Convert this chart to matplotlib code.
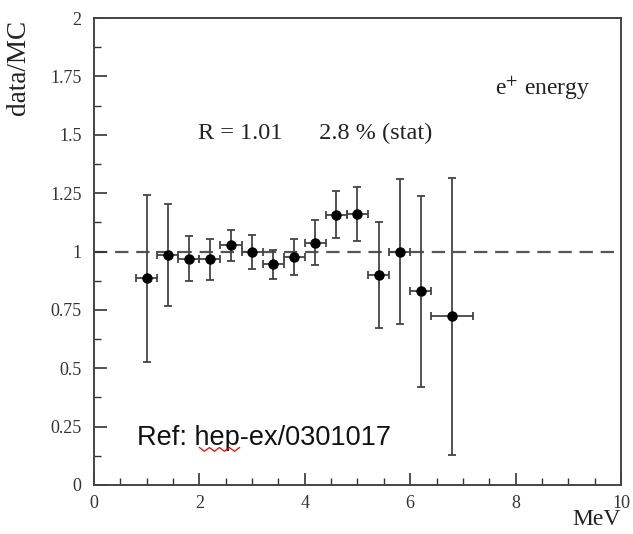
import matplotlib.pyplot as plt
from matplotlib.ticker import MultipleLocator, FixedFormatter, FixedLocator

# positron energy bins (MeV) and data/MC ratio
energy = [1.0, 1.4, 1.8, 2.2, 2.6, 3.0, 3.4, 3.8, 4.2, 4.6, 5.0, 5.4, 5.8, 6.2, 6.8]
energy_err = [0.2, 0.2, 0.2, 0.2, 0.2, 0.2, 0.2, 0.2, 0.2, 0.2, 0.2, 0.2, 0.2, 0.2, 0.4]
ratio = [0.885, 0.985, 0.97, 0.967, 1.027, 0.998, 0.946, 0.977, 1.038, 1.158, 1.16,
         0.9, 1.0, 0.83, 0.722]
ratio_err = [0.357, 0.22, 0.098, 0.088, 0.066, 0.072, 0.062, 0.077, 0.096, 0.102, 0.116,
             0.228, 0.31, 0.41, 0.595]

y_ticks = [0, 0.25, 0.5, 0.75, 1, 1.25, 1.5, 1.75, 2]
y_labels = ['0', '0.25', '0.5', '0.75', '1', '1.25', '1.5', '1.75', '2']

plt.rcParams['font.family'] = ['Liberation Serif', 'DejaVu Serif']
plt.rcParams['mathtext.fontset'] = 'stix'

fig = plt.figure(figsize=(6.33, 5.34), dpi=100)
ax = fig.add_axes([0.1485, 0.092, 0.8325, 0.874])

ax.axhline(1.0, color='#555555', lw=1.6, ls=(0, (6, 3.5)), zorder=1)
ax.errorbar(energy, ratio, xerr=energy_err, yerr=ratio_err, fmt='o', color='black',
            ms=6.5, ecolor='#444444', elinewidth=1.3, capsize=3, capthick=1.3, zorder=3)

ax.set_xlim(0, 10)
ax.set_ylim(0, 2)
ax.xaxis.set_major_locator(MultipleLocator(2))
ax.xaxis.set_minor_locator(MultipleLocator(0.5))
ax.yaxis.set_major_locator(FixedLocator(y_ticks))
ax.yaxis.set_major_formatter(FixedFormatter(y_labels))
ax.yaxis.set_minor_locator(MultipleLocator(0.125))
ax.tick_params(which='both', direction='in', top=False, right=False, labelsize=13,
               colors='#333333')
ax.tick_params(axis='y', which='major', pad=9)
ax.tick_params(axis='x', which='major', pad=7)
ax.tick_params(which='major', length=9, width=1.2)
ax.tick_params(which='minor', length=5, width=1.0)
for sp in ax.spines.values():
    sp.set_color('#444444')
    sp.set_linewidth(1.4)

ax.set_ylabel('data/MC', fontsize=19.5, color='#222222')
ax.yaxis.set_label_coords(-0.12, 0.894)
ax.set_xlabel('MeV', fontsize=17, color='#222222', ha='right', va='baseline')
ax.xaxis.set_label_coords(1.0, -0.085)

ax.text(7.61, 1.70, r'e$^{+}$ energy', fontsize=17, color='#222222', va='center')
ax.text(1.97, 1.504, 'R = 1.01      2.8 % (stat)', fontsize=17.5, color='#222222',
        va='center')
ax.text(0.82, 0.20, 'Ref: hep-ex/0301017', fontsize=19.5, family='Liberation Sans',
        color='#111111', va='center')

# spell-checker squiggle under "hep"
sq_x = [2.0 + 0.095 * i for i in range(9)]
sq_y = [0.16 if i % 2 == 0 else 0.144 for i in range(9)]
ax.plot(sq_x, sq_y, color='red', lw=0.9, zorder=4)

fig.savefig('out.png', dpi=100)
